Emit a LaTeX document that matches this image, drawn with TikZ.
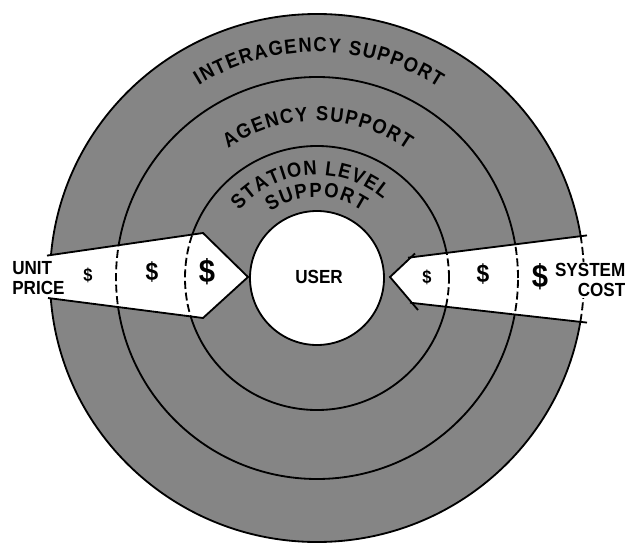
\documentclass[tikz,border=0pt]{standalone}
\usepackage{fontspec}
\setmainfont{Liberation Sans}[FakeStretch=0.9]
\usetikzlibrary{decorations.text}
\definecolor{ringgray}{gray}{0.52}
\newcommand{\ringfont}{\fontsize{13.5}{14.2}\selectfont\bfseries}
\newcommand{\arcfont}{\fontsize{14.5}{15}\selectfont\bfseries}

\begin{document}
\begin{tikzpicture}[
    x=0.025cm, y=0.025cm,
    ring/.style={line width=1.3pt},
    dashring/.style={line width=1.3pt, dash pattern=on 2mm off 0.9mm},
    edge/.style={line width=1.3pt, line join=miter},
    lbl/.style={font=\ringfont, inner sep=0pt, align=#1},
    lbl/.default=center,
    dollar/.style={font=\fontsize{#1}{#1}\selectfont\bfseries, inner sep=0pt},
    arctext/.style={decorate, decoration={text along path, text={|\arcfont|#1}, text align=fit to path}}
  ]
    \useasboundingbox (-317,-268) rectangle (311,278);

    \fill[ringgray] (0,0) ellipse [x radius=267, y radius=264];
    \draw[ring] (0,0) ellipse [x radius=267, y radius=264];
    \foreach \r in {132,201}
      \draw[ring] (0,0) circle [radius=\r];

    \fill[white] (-273,22) -- (-114,45) -- (-69,1) -- (-114,-40) -- (-271,-20) -- cycle;
    \fill[white] (73,1) -- (93,20) -- (270,42.6) -- (270,-44.6) -- (95,-25) -- cycle;

    \begin{scope}
      \clip (-273,22) -- (-114,45) -- (-69,1) -- (-114,-40) -- (-271,-20) -- cycle;
      \foreach \r in {132,201}
        \draw[dashring] (0,0) circle [radius=\r];
    \end{scope}
    \begin{scope}
      \clip (73,1) -- (93,20) -- (270,42.6) -- (270,-44.6) -- (95,-25) -- cycle;
      \foreach \r in {132,201}
        \draw[dashring] (0,0) circle [radius=\r];
      \draw[dashring] (0,0) ellipse [x radius=267, y radius=264];
    \end{scope}

    \draw[edge] (-270,22.4) -- (-114,45) -- (-69,1) -- (-114,-40) -- (-269,-20);
    \draw[edge] (98,24.5) -- (73,1) -- (101,-32);
    \draw[edge] (91,20.3) -- (270,42.6);
    \draw[edge] (93,-24.7) -- (270,-44.6);

    \filldraw[ring, fill=white] (0,0) circle [radius=67];

    \path[arctext={INTERAGENCY SUPPORT}] (121.5:226) arc [start angle=121.5, end angle=57.5, radius=226];
    \path[arctext={AGENCY SUPPORT}] (124.5:157) arc [start angle=124.5, end angle=55, radius=157];
    \path[arctext={STATION LEVEL}] (139:103) arc [start angle=139, end angle=50, radius=103];
    \path[arctext={SUPPORT}] (125:81) arc [start angle=125, end angle=56, radius=81];

    \node[lbl] (user) at (2,1.5) {USER};
    \node[lbl=left, anchor=west] (unitprice) at (-305,0) {UNIT\\PRICE};
    \node[lbl=right, anchor=east, fill=white, inner sep=1pt] (systemcost) at (310,-2) {SYSTEM\\COST};

    \node[dollar=13] (lsmall) at (-229,3) {\$};
    \node[dollar=18] (lmid) at (-165,5.5) {\$};
    \node[dollar=23] (lbig) at (-110,6) {\$};
    \node[dollar=13] (rsmall) at (110,0.5) {\$};
    \node[dollar=18] (rmid) at (166,4) {\$};
    \node[dollar=23] (rbig) at (223,1) {\$};
  \end{tikzpicture}
\end{document}
